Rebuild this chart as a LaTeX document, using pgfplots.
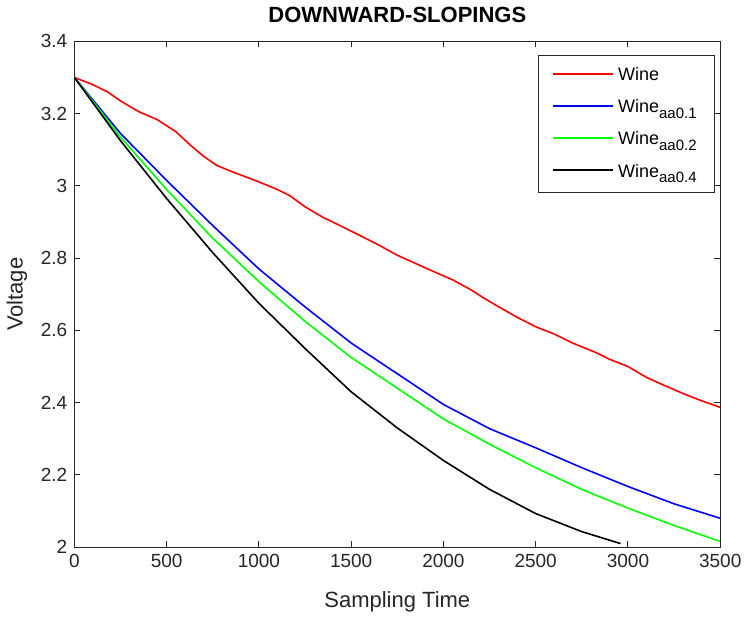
\documentclass[border=0pt]{standalone}
\usepackage{fontspec}
\setmainfont{Liberation Sans}
\usepackage{pgfplots}
\pgfplotsset{compat=1.18}
\definecolor{axgray}{gray}{0.15}
\definecolor{mgreen}{rgb}{0,1,0}
\definecolor{mred}{rgb}{1,0,0}
\newcommand{\sub}[1]{\raisebox{-0.6ex}{\fontsize{7.5}{8}\selectfont #1}}
\begin{document}
\begin{tikzpicture}
\begin{axis}[
    scale only axis,
    width=323pt,
    height=253pt,
    xmin=0, xmax=3500,
    ymin=2, ymax=3.4,
    xtick={0,500,1000,1500,2000,2500,3000,3500},
    ytick={2,2.2,2.4,2.6,2.8,3,3.2,3.4},
    /pgf/number format/1000 sep={},
    /pgf/number format/assume math mode=true,
    tick align=inside,
    major tick length=3pt,
    axis line style={axgray, line width=0.6pt},
    tick style={axgray, line width=0.5pt},
    tick label style={font=\fontsize{9.5}{11}\selectfont, text=axgray},
    label style={font=\fontsize{11}{13}\selectfont, text=axgray},
    title style={font=\fontsize{11}{13}\selectfont\bfseries, yshift=0pt},
    title={DOWNWARD-SLOPINGS},
    xlabel={Sampling Time},
    ylabel={Voltage},
    xlabel style={yshift=-5pt},
    ylabel style={yshift=0pt},
    legend style={at={(0.992,0.972)}, anchor=north east, draw=axgray,
        font=\fontsize{9}{11}\selectfont, cells={anchor=west},
        row sep=4pt, inner xsep=7pt, inner ysep=4pt},
    legend image code/.code={\draw[#1] (0pt,1pt) -- (30pt,1pt);},
    every axis plot/.append style={line width=0.8pt},
]
\addplot[draw=mred] coordinates {
(0,3.300) (100,3.280) (180,3.260) (250,3.235) (350,3.205) (450,3.183)
(550,3.150) (630,3.112) (700,3.082) (770,3.057) (850,3.040) (990,3.013)
(1100,2.990) (1170,2.972) (1250,2.942) (1350,2.912) (1440,2.890) (1550,2.862)
(1650,2.836) (1750,2.808) (1850,2.785) (1950,2.762) (2050,2.740) (2150,2.712)
(2220,2.689) (2300,2.665) (2400,2.636) (2500,2.610) (2600,2.590) (2700,2.565)
(2834,2.537) (2900,2.520) (3000,2.500) (3100,2.470) (3200,2.447) (3300,2.425)
(3400,2.405) (3500,2.387)
};
\addlegendentry{Wine}
\addplot[draw=blue] coordinates {
(0,3.300) (250,3.145) (500,3.015) (750,2.890) (1000,2.770) (1250,2.665)
(1500,2.565) (1750,2.480) (2000,2.395) (2250,2.328) (2500,2.275) (2750,2.220)
(3000,2.168) (3250,2.120) (3500,2.080)
};
\addlegendentry{Wine\sub{aa0.1}}
\addplot[draw=mgreen] coordinates {
(0,3.300) (250,3.135) (500,2.990) (750,2.855) (1000,2.735) (1250,2.625)
(1500,2.525) (1750,2.440) (2000,2.355) (2250,2.285) (2500,2.220) (2750,2.160)
(3000,2.108) (3250,2.060) (3500,2.016)
};
\addlegendentry{Wine\sub{aa0.2}}
\addplot[draw=black] coordinates {
(0,3.300) (250,3.125) (500,2.965) (750,2.815) (1000,2.675) (1250,2.550)
(1500,2.430) (1750,2.330) (2000,2.240) (2250,2.160) (2500,2.093) (2750,2.043)
(2960,2.010)
};
\addlegendentry{Wine\sub{aa0.4}}
\end{axis}
\end{tikzpicture}
\end{document}
